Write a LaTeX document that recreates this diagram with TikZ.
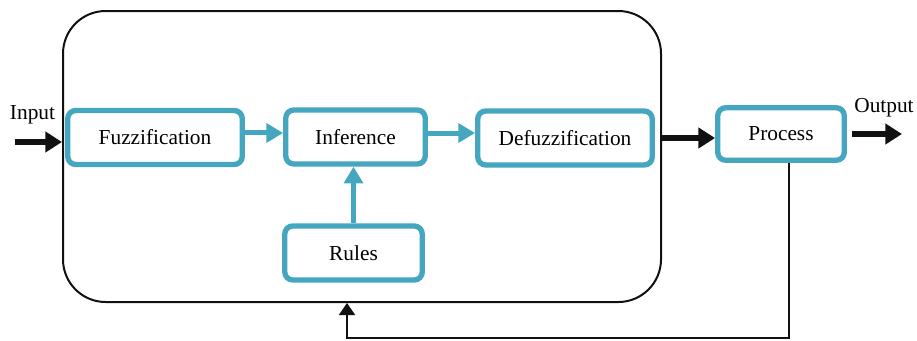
\documentclass[tikz,border=0pt]{standalone}
\usepackage{fontspec}
\setmainfont{Liberation Serif}
\usepackage{tikz}
\usetikzlibrary{arrows.meta,positioning,calc}
\definecolor{fteal}{HTML}{45A6C0}
\definecolor{fblack}{HTML}{111111}
\tikzset{
  tbox/.style={draw=fteal,fill=white,rounded corners=6pt,line width=4pt,align=center,font=\fontsize{16}{19}\selectfont,inner sep=2pt,minimum height=40.5pt},
  frame/.style={draw=fblack,rounded corners=32pt,line width=1.5pt,minimum width=448.5pt,minimum height=218.25pt},
  tarr/.style={-{Triangle[length=12.5pt,width=14pt]},line width=3.75pt,draw=fteal},
  barr/.style={-{Triangle[length=12.5pt,width=15pt]},line width=4pt,draw=fblack},
  fbarr/.style={-{Triangle[length=9pt,width=12pt]},line width=1.3pt,draw=fblack},
  lbl/.style={font=\fontsize{16}{19}\selectfont,inner sep=0pt},
}
\begin{document}
\begin{tikzpicture}[x=0.75pt,y=-0.75pt]
  \useasboundingbox (0,0) rectangle (917,340);
  % fuzzy system frame
  \node[frame] (fis) at (362,156.5) {};
  % blocks
  \node[tbox,minimum width=130.9pt] (fuzz) at (155,137.5) {Fuzzification};
  \node[tbox,minimum width=104.6pt] (infer) at (355.5,137) {Inference};
  \node[tbox,minimum width=130.9pt] (defuzz) at (565,138) {Defuzzification};
  \node[tbox,minimum width=103.1pt] (rules) at (353.5,253) {Rules};
  \node[tbox,minimum width=94.9pt,minimum height=39.4pt] (proc) at (781,134) {Process};
  % teal links
  \draw[tarr] ([yshift=3.4pt]fuzz.east) -- ([yshift=3.4pt]fuzz.east -| infer.west);
  \draw[tarr] ([yshift=3pt]infer.east) -- ([yshift=3pt]infer.east -| defuzz.west);
  \draw[tarr] (rules.north) -- (rules.north |- infer.south);
  % input / output
  \node[lbl] (inlbl) at (32.5,115) {Input};
  \node[lbl] (outlbl) at (884,108) {Output};
  \coordinate (inp) at (15,142);
  \coordinate (outp) at (902,134);
  \draw[barr] (inp) -- (inp -| fis.west);
  \draw[barr] (defuzz.east -| fis.east) -- (defuzz.east -| proc.west);
  \draw[barr] ([xshift=3.5pt]proc.east) -- (outp);
  % feedback
  \coordinate (fbl) at (347,338);
  \draw[fbarr] ([xshift=6pt]proc.south) |- (fbl) -- (fbl |- fis.south);
\end{tikzpicture}
\end{document}
